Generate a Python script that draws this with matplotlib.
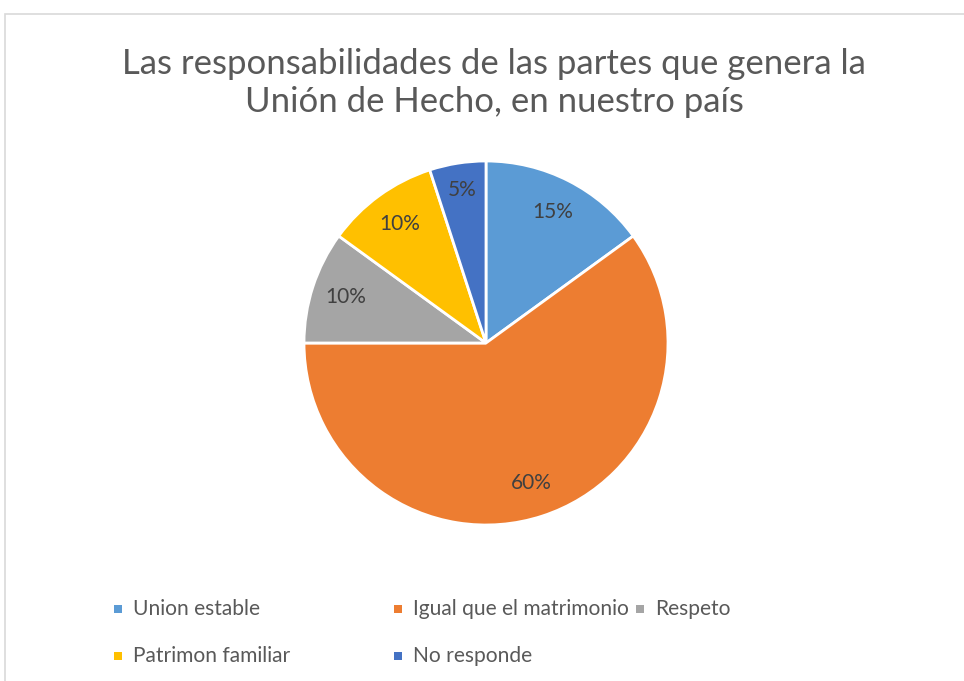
import matplotlib
matplotlib.use("Agg")
import matplotlib.pyplot as plt
from matplotlib.patches import Rectangle

categories = ["Union estable", "Igual que el matrimonio", "Respeto", "Patrimon familiar", "No responde"]
values = [15, 60, 10, 10, 5]
colors = ["#5B9BD5", "#ED7D31", "#A5A5A5", "#FFC000", "#4472C4"]
title = "Las responsabilidades de las partes que genera la\nUnión de Hecho, en nuestro país"

plt.rcParams['font.family'] = ['Lato', 'DejaVu Sans']

W, H = 964, 681
fig = plt.figure(figsize=(W / 100, H / 100), dpi=100)

# chart border
fig.patches.append(Rectangle((5 / W, -0.1), 1.2, (H - 14) / H + 0.1, transform=fig.transFigure,
                             fill=False, edgecolor="#D9D9D9", linewidth=1.2, figure=fig))

cx, cy, r = 486, 343, 182
ax = fig.add_axes([(cx - r) / W, (H - cy - r) / H, 2 * r / W, 2 * r / H])
wedges, texts, autotexts = ax.pie(values, colors=colors, startangle=90, counterclock=False,
                                  autopct=lambda p: f"{p:.0f}%", pctdistance=0.81,
                                  wedgeprops=dict(edgecolor="white", linewidth=2),
                                  textprops=dict(color="#404040", fontsize=15))
# small slice label pushed slightly outward (best-fit placement)
x, y = autotexts[-1].get_position()
autotexts[-1].set_position((x * 1.05, y * 1.05))
ax.set_xlim(-1, 1)
ax.set_ylim(-1, 1)
ax.set_aspect("equal")
ax.axis("off")

fig.text(494 / W, 1 - 83 / H, title, ha="center", va="center", fontsize=25,
         color="#595959", linespacing=1.25)

legend_pos = [(118, 609), (398, 609), (640, 609), (118, 656), (398, 656)]
for (lx, ly), name, col in zip(legend_pos, categories, colors):
    fig.patches.append(Rectangle(((lx - 4) / W, (H - ly - 4) / H), 8 / W, 8 / H,
                                 transform=fig.transFigure, facecolor=col, edgecolor="none", figure=fig))
    fig.text((lx + 15) / W, 1 - ly / H, name, ha="left", va="center", fontsize=15.1, color="#595959")

fig.savefig("out.png", dpi=100)
